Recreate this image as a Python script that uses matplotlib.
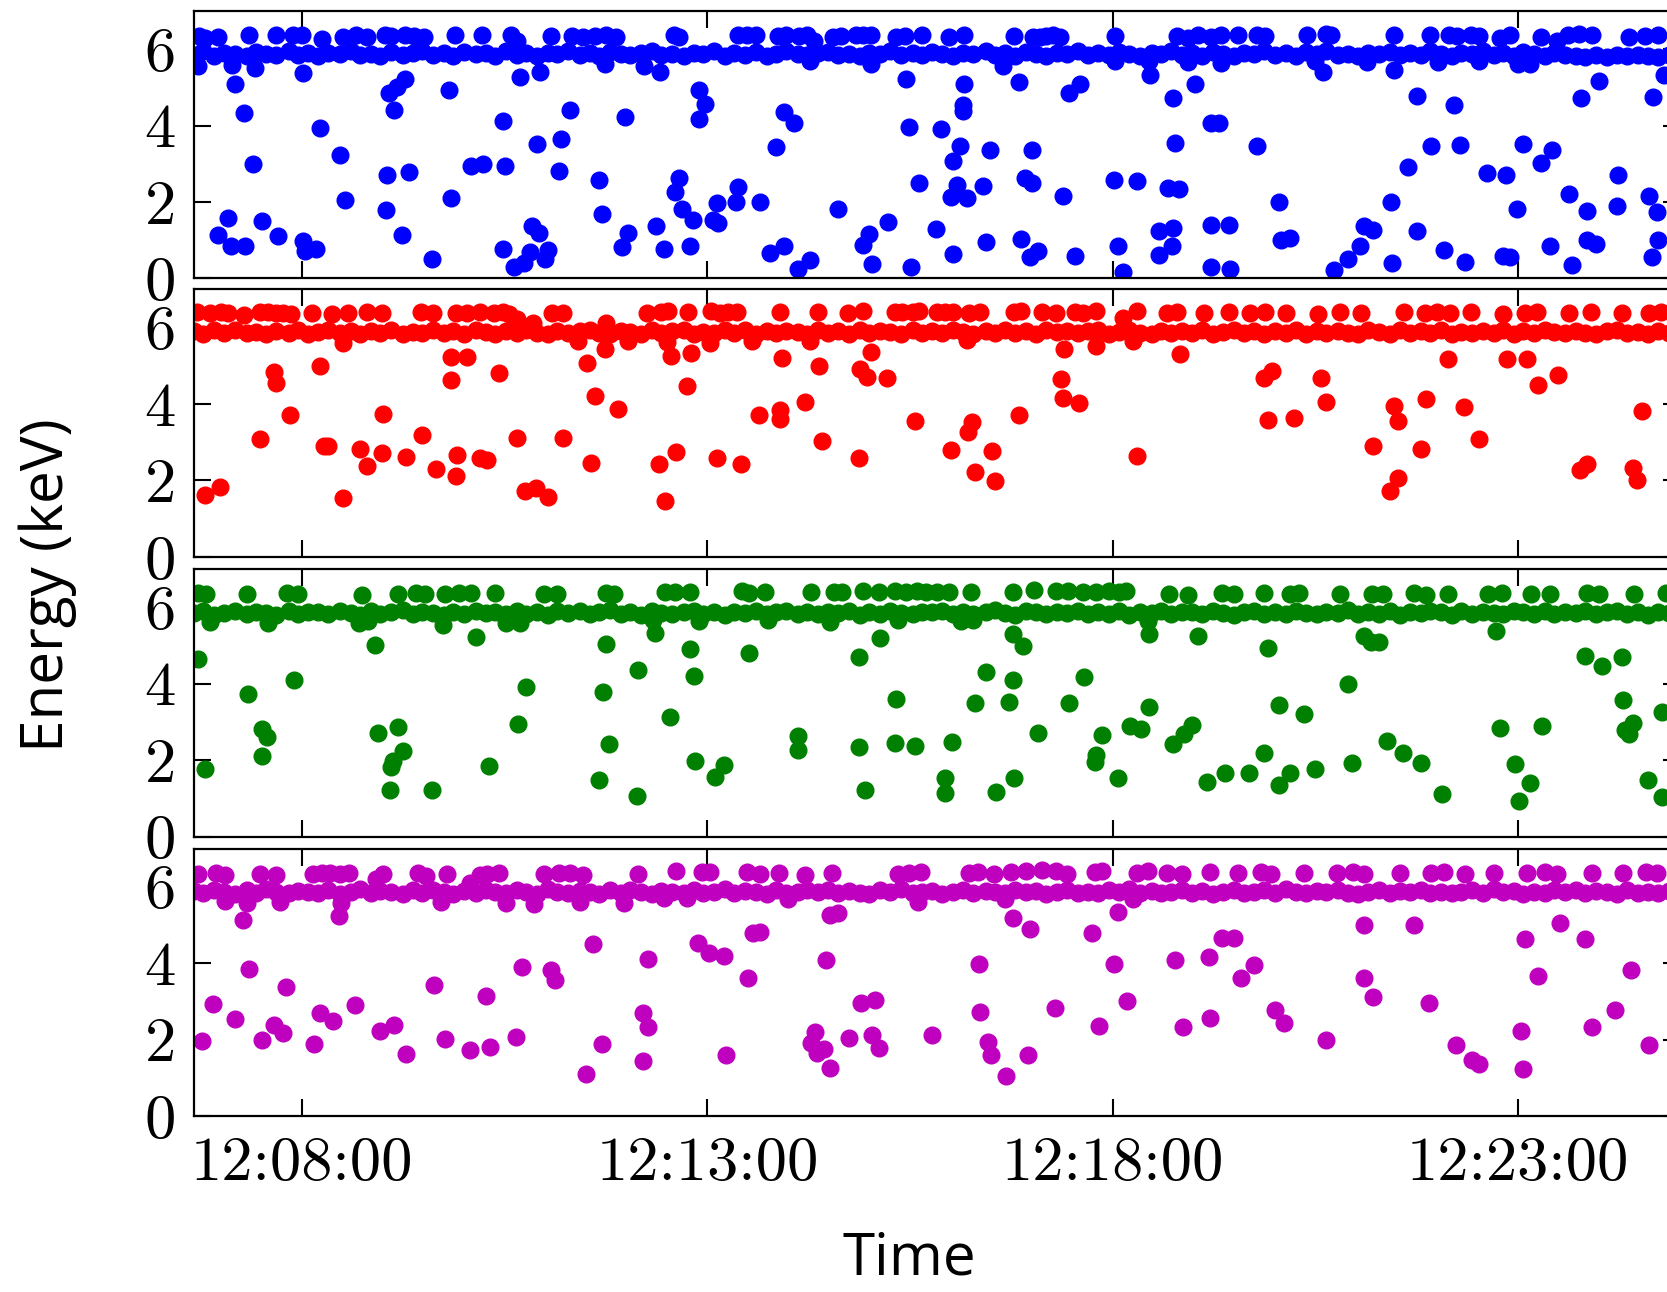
import matplotlib

matplotlib.use("Agg")
import matplotlib.pyplot as plt

# time axis: seconds after 12:06:40
XLIM = (0, 1100)
TICK_T = [80, 380, 680, 980]
TICK_LABELS = ["12:08:00", "12:13:00", "12:18:00", "12:23:00"]

# dense Mn K-alpha band, shared event times
band_t = [
    0, 7, 15, 22, 30, 39, 46, 53, 61, 70, 77, 84,
    92, 99, 108, 116, 123, 131, 138, 146, 155, 162, 169, 177,
    185, 192, 200, 209, 216, 223, 231, 239, 246, 254, 262, 269,
    277, 286, 293, 300, 308, 316, 323, 331, 339, 346, 354, 363,
    370, 377, 385, 393, 400, 408, 416, 424, 431, 438, 447, 454,
    462, 469, 477, 485, 493, 500, 508, 515, 523, 532, 539, 546,
    554, 562, 569, 577, 586, 593, 600, 608, 616, 623, 631, 639,
    646, 654, 662, 669, 677, 685, 692, 700, 709, 716, 723, 731,
    739, 746, 754, 762, 770, 777, 785, 792, 800, 808, 816, 823,
    831, 838, 847, 854, 862, 869, 877, 885, 893, 900, 908, 915,
    923, 931, 938, 946, 954, 962, 969, 977, 984, 992, 1000, 1007,
    1015, 1023, 1030, 1038, 1046, 1053, 1061, 1069, 1076, 1084, 1092, 1099,
]

band_blue = [
    5.86, 5.94, 5.82, 5.90, 5.88, 5.81, 5.93, 5.87, 5.84, 5.95, 5.86, 5.90,
    5.83, 5.91, 5.87, 5.94, 5.84, 5.88, 5.81, 5.93, 5.86, 5.90, 5.96, 5.84,
    5.89, 5.82, 5.92, 5.87, 5.91, 5.83, 5.94, 5.86, 5.90, 5.81, 5.91, 5.87,
    5.94, 5.85, 5.89, 5.82, 5.93, 5.87, 5.84, 5.91, 5.95, 5.85, 5.88, 5.82,
    5.91, 5.87, 5.94, 5.83, 5.90, 5.86, 5.93, 5.82, 5.88, 5.95, 5.87, 5.84,
    5.90, 5.93, 5.85, 5.88, 5.82, 5.91, 5.87, 5.94, 5.84, 5.90, 5.86, 5.93,
    5.87, 5.82, 5.91, 5.88, 5.95, 5.85, 5.90, 5.83, 5.93, 5.87, 5.82, 5.91,
    5.88, 5.94, 5.84, 5.90, 5.85, 5.93, 5.87, 5.82, 5.91, 5.88, 5.95, 5.85,
    5.90, 5.83, 5.93, 5.87, 5.82, 5.91, 5.88, 5.94, 5.85, 5.90, 5.83, 5.93,
    5.87, 5.95, 5.85, 5.88, 5.82, 5.91, 5.87, 5.93, 5.84, 5.90, 5.85, 5.94,
    5.88, 5.82, 5.91, 5.87, 5.94, 5.85, 5.90, 5.83, 5.93, 5.87, 5.82, 5.91,
    5.86, 5.81, 5.79, 5.84, 5.80, 5.85, 5.81, 5.86, 5.83, 5.80, 5.85, 5.82,
]

band_red = [
    5.90, 5.84, 5.93, 5.87, 5.95, 5.85, 5.89, 5.82, 5.91, 5.87, 5.94, 5.84,
    5.88, 5.93, 5.85, 5.90, 5.82, 5.91, 5.87, 5.95, 5.84, 5.89, 5.85, 5.93,
    5.87, 5.91, 5.84, 5.94, 5.88, 5.82, 5.90, 5.85, 5.93, 5.87, 5.84, 5.91,
    5.85, 5.90, 5.94, 5.87, 5.84, 5.91, 5.88, 5.82, 5.93, 5.85, 5.90, 5.95,
    5.84, 5.88, 5.85, 5.93, 5.87, 5.94, 5.82, 5.90, 5.85, 5.91, 5.88, 5.84,
    5.93, 5.87, 5.90, 5.84, 5.94, 5.85, 5.91, 5.88, 5.82, 5.93, 5.87, 5.90,
    5.85, 5.94, 5.88, 5.84, 5.91, 5.87, 5.95, 5.85, 5.90, 5.82, 5.93, 5.88,
    5.91, 5.85, 5.90, 5.94, 5.84, 5.88, 5.93, 5.87, 5.82, 5.91, 5.85, 5.90,
    5.87, 5.93, 5.84, 5.88, 5.95, 5.85, 5.91, 5.82, 5.90, 5.87, 5.94, 5.84,
    5.90, 5.85, 5.91, 5.87, 5.82, 5.93, 5.88, 5.84, 5.94, 5.85, 5.90, 5.87,
    5.93, 5.84, 5.88, 5.85, 5.91, 5.87, 5.95, 5.84, 5.90, 5.85, 5.93, 5.88,
    5.85, 5.91, 5.87, 5.82, 5.90, 5.94, 5.85, 5.88, 5.84, 5.91, 5.87, 5.90,
]

band_green = [
    5.84, 5.90, 5.80, 5.86, 5.91, 5.82, 5.88, 5.85, 5.79, 5.90, 5.83, 5.87,
    5.88, 5.82, 5.91, 5.85, 5.80, 5.90, 5.83, 5.87, 5.92, 5.82, 5.88, 5.85,
    5.80, 5.87, 5.83, 5.91, 5.85, 5.88, 5.82, 5.90, 5.83, 5.87, 5.80, 5.91,
    5.85, 5.90, 5.82, 5.87, 5.92, 5.83, 5.88, 5.80, 5.90, 5.85, 5.82, 5.88,
    5.91, 5.83, 5.87, 5.80, 5.88, 5.85, 5.90, 5.82, 5.87, 5.91, 5.83, 5.88,
    5.82, 5.88, 5.85, 5.90, 5.80, 5.87, 5.83, 5.91, 5.85, 5.82, 5.88, 5.87,
    5.90, 5.83, 5.88, 5.82, 5.87, 5.92, 5.85, 5.80, 5.90, 5.87, 5.83, 5.88,
    5.85, 5.91, 5.82, 5.87, 5.83, 5.90, 5.80, 5.88, 5.85, 5.91, 5.82, 5.87,
    5.88, 5.82, 5.90, 5.85, 5.80, 5.87, 5.91, 5.83, 5.88, 5.82, 5.90, 5.85,
    5.83, 5.88, 5.85, 5.92, 5.82, 5.87, 5.83, 5.90, 5.80, 5.88, 5.85, 5.91,
    5.87, 5.80, 5.90, 5.83, 5.88, 5.85, 5.82, 5.91, 5.87, 5.83, 5.90, 5.82,
    5.88, 5.85, 5.91, 5.82, 5.87, 5.90, 5.83, 5.88, 5.80, 5.87, 5.85, 5.90,
]

band_magenta = [
    5.89, 5.83, 5.92, 5.86, 5.82, 5.91, 5.85, 5.93, 5.87, 5.83, 5.89, 5.86,
    5.84, 5.91, 5.82, 5.87, 5.93, 5.83, 5.89, 5.86, 5.81, 5.91, 5.84, 5.92,
    5.87, 5.82, 5.89, 5.84, 5.92, 5.86, 5.83, 5.91, 5.87, 5.82, 5.93, 5.86,
    5.83, 5.89, 5.86, 5.81, 5.91, 5.84, 5.92, 5.87, 5.82, 5.89, 5.86, 5.83,
    5.91, 5.84, 5.87, 5.93, 5.83, 5.89, 5.86, 5.82, 5.92, 5.84, 5.87, 5.91,
    5.86, 5.92, 5.83, 5.89, 5.84, 5.82, 5.91, 5.87, 5.93, 5.83, 5.86, 5.89,
    5.82, 5.87, 5.91, 5.84, 5.89, 5.86, 5.83, 5.92, 5.86, 5.89, 5.82, 5.87,
    5.92, 5.84, 5.87, 5.83, 5.91, 5.86, 5.93, 5.84, 5.89, 5.83, 5.87, 5.91,
    5.84, 5.89, 5.82, 5.87, 5.92, 5.83, 5.86, 5.91, 5.84, 5.93, 5.86, 5.83,
    5.89, 5.86, 5.92, 5.84, 5.82, 5.87, 5.91, 5.83, 5.89, 5.86, 5.92, 5.84,
    5.87, 5.83, 5.86, 5.91, 5.84, 5.93, 5.86, 5.89, 5.82, 5.87, 5.84, 5.91,
    5.86, 5.91, 5.83, 5.89, 5.86, 5.82, 5.92, 5.84, 5.87, 5.83, 5.89, 5.86,
]

# individual events off the band: (seconds, keV)
blue_pts = [
    (4, 6.34), (8, 6.30), (18, 6.33), (41, 6.36), (61, 6.37), (73, 6.38), (80, 6.38),
    (95, 6.26), (110, 6.33), (120, 6.36), (128, 6.32), (141, 6.37), (146, 6.34),
    (156, 6.36), (163, 6.34), (170, 6.33), (193, 6.37), (213, 6.37), (235, 6.36),
    (239, 6.22), (264, 6.35), (280, 6.35), (288, 6.33), (297, 6.34), (305, 6.36),
    (312, 6.33), (355, 6.37), (359, 6.33), (403, 6.37), (409, 6.37), (416, 6.36),
    (432, 6.34), (438, 6.37), (448, 6.35), (454, 6.38), (459, 6.22), (473, 6.33),
    (479, 6.35), (490, 6.36), (495, 6.36), (501, 6.36), (520, 6.32), (526, 6.35),
    (539, 6.36), (559, 6.33), (570, 6.36), (607, 6.35), (621, 6.32), (626, 6.33),
    (631, 6.34), (636, 6.36), (641, 6.31), (682, 6.35), (728, 6.35), (736, 6.30),
    (743, 6.38), (753, 6.33), (760, 6.37), (773, 6.36), (787, 6.38), (793, 6.35),
    (824, 6.36), (838, 6.39), (842, 6.36), (888, 6.37), (915, 6.37), (929, 6.37),
    (935, 6.35), (945, 6.37), (951, 6.34), (967, 6.28), (974, 6.38), (997, 6.33),
    (1009, 6.21), (1017, 6.37), (1025, 6.39), (1035, 6.37), (1062, 6.33), (1074, 6.35),
    (1084, 6.36),
    (3, 5.56), (28, 5.58), (45, 5.52), (30, 5.08), (37, 4.32), (44, 3.00), (81, 5.37),
    (93, 3.93), (108, 3.22), (112, 2.04), (144, 4.86), (148, 4.42), (150, 5.02),
    (156, 5.21), (143, 2.70), (159, 2.79), (142, 1.78), (154, 1.13), (189, 4.94),
    (190, 2.11), (176, 0.50), (205, 2.95), (214, 3.00), (230, 2.94), (229, 4.12),
    (241, 5.28), (256, 5.39), (254, 3.53), (272, 3.64), (270, 2.80), (229, 0.77),
    (237, 0.31), (244, 0.40), (250, 1.36), (255, 1.20), (249, 0.70), (262, 0.75),
    (260, 0.50), (18, 1.14), (25, 1.58), (27, 0.85), (38, 0.86), (50, 1.49),
    (62, 1.12), (81, 0.97), (82, 0.73), (90, 0.77),
    (278, 4.42), (300, 2.57), (302, 1.69), (319, 4.22), (321, 1.19), (317, 0.82),
    (342, 1.38), (348, 0.77), (345, 5.40), (333, 5.56), (304, 5.60), (359, 2.63),
    (356, 2.26), (361, 1.82), (369, 1.54), (367, 0.84), (374, 4.93), (378, 4.56),
    (374, 4.16), (384, 1.54), (388, 1.45), (387, 1.97), (401, 1.99), (403, 2.39),
    (419, 2.00), (426, 0.66), (437, 0.84), (447, 0.24), (456, 0.49), (431, 3.43),
    (437, 4.36), (444, 4.07), (477, 1.82), (495, 0.88), (500, 1.17), (502, 0.38),
    (514, 1.48), (531, 0.29), (456, 5.69), (501, 5.62), (527, 5.21), (529, 3.96),
    (537, 2.51), (549, 1.29), (553, 3.92), (562, 0.64), (560, 2.12), (572, 2.10),
    (565, 2.45), (562, 3.07), (567, 3.46), (569, 4.55), (569, 4.38), (570, 5.10),
    (584, 2.43), (589, 3.37), (586, 0.95), (611, 5.15), (599, 5.56), (612, 1.04),
    (615, 2.63), (620, 2.50), (620, 3.35), (619, 0.57), (625, 0.72), (643, 2.17),
    (648, 4.86), (656, 5.08), (652, 0.59),
    (708, 5.32), (741, 5.10), (725, 4.71), (753, 4.06), (759, 4.07), (726, 3.55),
    (787, 3.46), (681, 2.57), (698, 2.54), (721, 2.37), (729, 2.35), (803, 2.00),
    (714, 1.23), (725, 1.31), (684, 0.86), (724, 0.86), (714, 0.62), (688, 0.18),
    (753, 1.39), (766, 1.39), (753, 0.29), (767, 0.25), (805, 1.00), (811, 1.06),
    (836, 5.39), (844, 0.21), (854, 0.50), (863, 0.86), (866, 1.38), (873, 1.26),
    (887, 0.40), (888, 5.45), (886, 2.00), (899, 2.92), (905, 4.77), (905, 1.24),
    (916, 3.46), (925, 0.75), (933, 4.53), (937, 3.48), (941, 0.42), (957, 2.76),
    (971, 2.71), (969, 0.60), (974, 0.56), (979, 1.82), (984, 3.52), (997, 3.02),
    (1005, 3.35), (1004, 0.84), (1018, 2.22), (1020, 0.34), (1027, 4.71), (1040, 5.16),
    (1031, 1.77), (1031, 1.01), (1038, 0.91), (1054, 2.72), (1053, 1.90), (1077, 2.17),
    (1080, 4.75), (1083, 1.75), (1079, 0.57), (1084, 1.00), (1088, 5.32),
    (682, 5.68), (707, 5.70), (736, 5.66), (760, 5.64), (830, 5.68), (868, 5.67),
    (921, 5.66), (951, 5.68), (980, 5.60), (989, 5.62),
]

red_pts = [
    (2, 6.40), (12, 6.39), (20, 6.40), (25, 6.38), (37, 6.33), (49, 6.40), (55, 6.41),
    (61, 6.39), (66, 6.37), (72, 6.35), (87, 6.39), (102, 6.36), (114, 6.39),
    (128, 6.40), (139, 6.38), (168, 6.41), (177, 6.38), (194, 6.38), (202, 6.39),
    (212, 6.40), (222, 6.38), (229, 6.40), (233, 6.36), (239, 6.22), (251, 6.13),
    (265, 6.38), (273, 6.37), (305, 6.13), (335, 6.38), (346, 6.42), (351, 6.43),
    (366, 6.40), (383, 6.43), (389, 6.37), (395, 6.40), (402, 6.41), (434, 6.40),
    (462, 6.41), (484, 6.39), (495, 6.44), (519, 6.41), (524, 6.42), (532, 6.40),
    (537, 6.43), (550, 6.42), (556, 6.40), (562, 6.40), (574, 6.37), (582, 6.42),
    (607, 6.41), (612, 6.44), (628, 6.42), (638, 6.38), (652, 6.42), (658, 6.39),
    (668, 6.43), (688, 6.25), (698, 6.43),
    (720, 6.38), (728, 6.40), (748, 6.37), (766, 6.41), (782, 6.38), (793, 6.40),
    (808, 6.39), (832, 6.36), (848, 6.41), (864, 6.38), (896, 6.40), (911, 6.37),
    (920, 6.41), (930, 6.38), (945, 6.40), (969, 6.36), (985, 6.39), (994, 6.41),
    (1018, 6.38), (1034, 6.40), (1057, 6.37), (1077, 6.39), (1086, 6.41),
    (8, 1.63), (19, 1.82), (49, 3.09), (59, 4.84), (61, 4.54), (71, 3.70), (93, 4.99),
    (96, 2.90), (99, 2.90), (110, 1.54), (110, 5.59), (123, 2.83), (128, 2.37),
    (139, 2.72), (140, 3.73), (157, 2.61), (169, 3.18), (179, 2.31), (190, 5.24),
    (202, 5.24), (190, 4.63), (195, 2.66), (194, 2.11), (212, 2.59), (217, 2.53),
    (226, 4.82), (239, 3.10), (245, 1.73), (253, 1.79), (262, 1.57), (273, 3.11),
    (291, 5.08), (297, 4.21), (294, 2.46), (304, 5.43), (314, 3.88),
    (353, 5.27), (368, 5.34), (365, 4.46), (382, 5.61), (344, 2.43), (357, 2.75),
    (349, 1.46), (387, 2.58), (405, 2.43), (418, 3.71), (434, 3.84), (434, 3.62),
    (435, 5.21), (452, 4.06), (463, 4.99), (465, 3.04), (492, 2.58), (493, 4.92),
    (498, 4.72), (501, 5.37), (513, 4.69), (534, 3.55), (560, 2.80), (573, 3.28),
    (576, 3.54), (578, 2.21), (591, 2.77), (593, 1.99), (611, 3.72), (644, 5.43),
    (642, 4.65), (643, 4.15), (655, 4.03), (668, 5.53), (698, 2.64),
    (284, 5.65), (321, 5.65), (350, 5.62), (413, 5.64), (456, 5.65), (572, 5.68),
    (695, 5.66),
    (730, 5.31), (792, 4.69), (798, 4.86), (795, 3.58), (814, 3.64), (834, 4.69),
    (838, 4.06), (873, 2.89), (885, 1.72), (891, 2.06), (888, 3.94), (891, 3.56),
    (908, 2.81), (912, 4.14), (928, 5.19), (940, 3.92), (951, 3.08), (972, 5.17),
    (987, 5.19), (995, 4.50), (1010, 4.75), (1026, 2.28), (1031, 2.44), (1065, 2.33),
    (1068, 2.00), (1072, 3.81),
]

green_pts = [
    (3, 6.38), (9, 6.36), (39, 6.36), (69, 6.37), (77, 6.35), (124, 6.33), (151, 6.34),
    (164, 6.38), (171, 6.34), (186, 6.35), (196, 6.38), (205, 6.37), (223, 6.38),
    (259, 6.36), (269, 6.34), (305, 6.37), (311, 6.34), (349, 6.39), (356, 6.41),
    (367, 6.39), (406, 6.42), (411, 6.38), (423, 6.41), (457, 6.39), (474, 6.40),
    (480, 6.41), (495, 6.42), (507, 6.40), (519, 6.43), (527, 6.41), (535, 6.42),
    (542, 6.40), (550, 6.41), (559, 6.39), (575, 6.39), (606, 6.40), (622, 6.45),
    (638, 6.42), (647, 6.43), (658, 6.41), (668, 6.39), (677, 6.43), (685, 6.41),
    (690, 6.42),
    (722, 6.36), (736, 6.33), (761, 6.37), (770, 6.35), (792, 6.38), (811, 6.34),
    (818, 6.37), (848, 6.35), (872, 6.36), (880, 6.34), (903, 6.37), (912, 6.33),
    (928, 6.36), (958, 6.35), (968, 6.37), (990, 6.34), (1004, 6.36), (1031, 6.38),
    (1040, 6.35), (1066, 6.34), (1090, 6.37),
    (3, 4.65), (8, 1.77), (40, 3.73), (50, 2.82), (54, 2.60), (50, 2.12), (74, 4.09),
    (134, 5.01), (136, 2.71), (151, 2.87), (155, 2.23), (147, 1.97), (146, 1.83),
    (145, 1.22), (176, 1.21), (209, 5.23), (218, 1.85), (240, 2.95), (246, 3.92),
    (300, 1.49), (305, 5.05), (303, 3.78), (307, 2.42), (328, 1.05), (329, 4.36),
    (341, 5.33), (367, 4.92), (370, 4.20), (352, 3.14), (371, 1.98), (386, 1.56),
    (392, 1.87), (411, 4.81), (447, 2.63), (447, 2.27), (492, 4.69), (492, 2.34),
    (497, 1.23), (508, 5.21), (520, 3.59), (519, 2.45), (534, 2.37), (561, 2.48),
    (556, 1.52), (556, 1.13), (586, 4.31), (578, 3.49), (594, 1.16), (606, 5.29),
    (614, 4.98), (606, 4.10), (603, 3.53), (607, 1.54), (625, 2.72), (648, 3.49),
    (659, 4.17), (672, 2.66), (668, 2.13), (667, 1.96), (684, 1.54), (693, 2.89),
    (701, 2.82), (707, 3.40), (707, 5.29),
    (12, 5.62), (55, 5.60), (122, 5.58), (129, 5.63), (184, 5.55), (231, 5.60),
    (241, 5.58), (340, 5.66), (374, 5.64), (425, 5.66), (471, 5.62), (521, 5.66),
    (568, 5.64), (577, 5.67), (706, 5.64),
    (743, 5.25), (725, 2.42), (733, 2.69), (739, 2.92), (750, 1.44), (763, 1.67),
    (781, 1.67), (792, 2.19), (795, 4.94), (803, 3.44), (803, 1.36), (811, 1.67),
    (822, 3.22), (830, 1.78), (854, 4.00), (857, 1.92), (866, 5.25), (871, 5.08),
    (877, 5.08), (883, 2.50), (895, 2.19), (908, 1.92), (924, 1.11), (964, 5.39),
    (967, 2.83), (978, 1.89), (981, 0.94), (989, 1.39), (998, 2.89), (1030, 4.72),
    (1042, 4.47), (1057, 4.69), (1058, 3.58), (1059, 2.78), (1062, 2.69), (1065, 2.97),
    (1076, 1.47), (1087, 1.03), (1087, 3.25),
]

magenta_pts = [
    (3, 6.33), (16, 6.35), (23, 6.31), (49, 6.34), (61, 6.32), (88, 6.33), (95, 6.36),
    (101, 6.35), (108, 6.34), (115, 6.35), (135, 6.20), (140, 6.33), (166, 6.35),
    (172, 6.28), (187, 6.33), (204, 6.10), (212, 6.30), (217, 6.33), (226, 6.35),
    (259, 6.33), (270, 6.37), (278, 6.36), (288, 6.32), (329, 6.34), (357, 6.41),
    (376, 6.38), (382, 6.38), (409, 6.39), (419, 6.34), (433, 6.37), (452, 6.31),
    (472, 6.37), (521, 6.34), (529, 6.35), (538, 6.39), (574, 6.36), (580, 6.40),
    (592, 6.33), (605, 6.38), (616, 6.42), (628, 6.43), (638, 6.41), (646, 6.34),
    (667, 6.38), (672, 6.41), (698, 6.36), (706, 6.42),
    (720, 6.36), (731, 6.33), (752, 6.38), (773, 6.35), (790, 6.40), (797, 6.34),
    (822, 6.37), (846, 6.36), (858, 6.39), (866, 6.33), (893, 6.37), (916, 6.35),
    (925, 6.38), (941, 6.34), (962, 6.37), (987, 6.36), (1000, 6.39), (1009, 6.34),
    (1035, 6.37), (1058, 6.35), (1075, 6.38), (1083, 6.36),
    (6, 1.97), (14, 2.94), (30, 2.55), (36, 5.12), (41, 3.86), (50, 1.98), (59, 2.38),
    (66, 2.17), (68, 3.37), (89, 1.89), (93, 2.70), (103, 2.48), (107, 5.24),
    (119, 2.90), (138, 2.22), (148, 2.39), (157, 1.62), (178, 3.43), (186, 2.02),
    (204, 1.72), (216, 3.14), (219, 1.81), (238, 2.06), (243, 3.90), (264, 3.82),
    (267, 3.57), (290, 1.11), (295, 4.50), (302, 1.89), (332, 2.70), (332, 1.43),
    (336, 4.10), (336, 2.33),
    (373, 4.52), (381, 4.26), (392, 4.19), (394, 1.61), (410, 3.62), (414, 4.78),
    (419, 4.82), (468, 4.08), (471, 5.26), (477, 5.32), (460, 2.21), (457, 1.90),
    (461, 1.64), (466, 1.76), (471, 1.25), (485, 2.04), (494, 2.96), (504, 3.03),
    (502, 2.11), (507, 1.79), (546, 2.13), (536, 5.60), (581, 3.99), (582, 2.71),
    (588, 1.93), (590, 1.61), (601, 1.05), (606, 5.18), (619, 4.89), (617, 1.61),
    (637, 2.82), (665, 4.78), (670, 2.35), (684, 5.35), (681, 3.99), (691, 3.01),
    (23, 5.62), (39, 5.58), (64, 5.60), (109, 5.58), (183, 5.60), (231, 5.58),
    (252, 5.55), (286, 5.60), (318, 5.58), (348, 5.70), (365, 5.71), (440, 5.68),
    (600, 5.67), (695, 5.69),
    (726, 4.08), (732, 2.33), (751, 4.17), (752, 2.56), (761, 4.67), (770, 4.67),
    (775, 3.61), (785, 3.94), (800, 2.78), (807, 2.44), (838, 2.00), (866, 5.00),
    (866, 3.61), (873, 3.11), (903, 5.00), (914, 2.97), (934, 1.86), (946, 1.47),
    (951, 1.36), (982, 2.22), (984, 1.22), (985, 4.64), (995, 3.67), (1011, 5.06),
    (1030, 4.64), (1035, 2.33), (1052, 2.78), (1064, 3.83), (1077, 1.86),
]

panels = [
    ("b", band_blue, blue_pts),
    ("r", band_red, red_pts),
    ("g", band_green, green_pts),
    ("m", band_magenta, magenta_pts),
]

fig = plt.figure(figsize=(16.67, 12.92), dpi=100)
bottoms = [0.7845, 0.5690, 0.3525, 0.1362]

for i, (color, band_e, pts) in enumerate(panels):
    ax = fig.add_axes([0.1164, bottoms[i], 0.8914, 0.207])
    t_pts, e_pts = zip(*pts)
    ax.plot(band_t, band_e, "o", color=color, ms=12, mew=1)
    ax.plot(t_pts, e_pts, "o", color=color, ms=12, mew=1)
    ax.set_xlim(*XLIM)
    ax.set_ylim(0, 7)
    ax.set_yticks([0, 2, 4, 6])
    ax.set_yticklabels(["0", "2", "4", "6"], fontfamily="cmr10", fontsize=45)
    ax.set_xticks(TICK_T)
    if i == 3:
        ax.set_xticklabels(TICK_LABELS, fontfamily="cmr10", fontsize=45)
    else:
        ax.set_xticklabels([])
    ax.tick_params(direction="in", length=12, width=1.5, top=True, right=True)
    ax.tick_params(axis="y", pad=13)
    ax.tick_params(axis="x", pad=15)
    for spine in ax.spines.values():
        spine.set_linewidth(1.6)

fig.text(48 / 1667, 0.547, "Energy (keV)", rotation=90, ha="center", va="center",
         fontfamily="Open Sans", fontsize=42)
fig.text(909 / 1667, 0.003, "Time", ha="center", va="bottom",
         fontfamily="Open Sans", fontsize=42)

fig.savefig("out.png", dpi=100)
